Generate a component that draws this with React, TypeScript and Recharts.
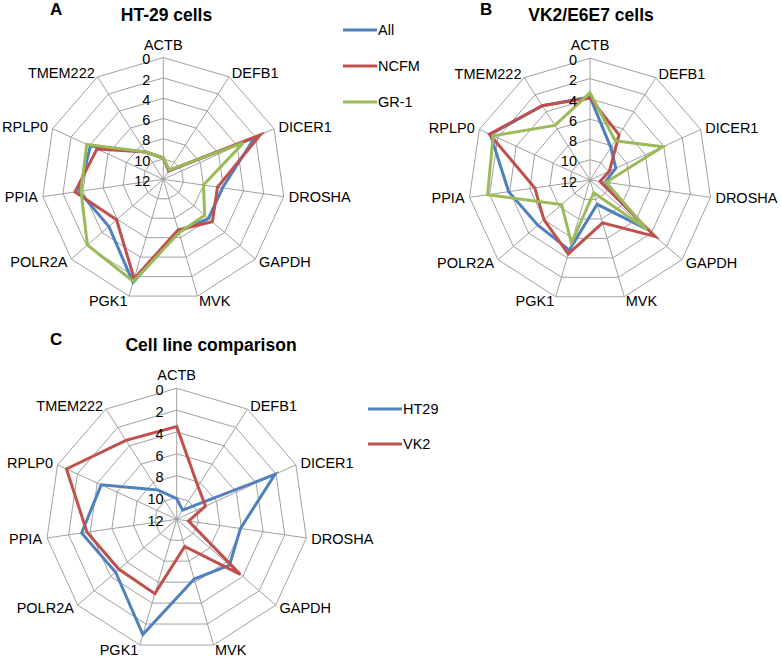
import React from 'react';
import {
  RadarChart,
  Radar,
  PolarGrid,
  PolarAngleAxis,
  PolarRadiusAxis,
  Legend,
} from 'recharts';

const genes = ['ACTB', 'DEFB1', 'DICER1', 'DROSHA', 'GAPDH', 'MVK', 'PGK1', 'POLR2A', 'PPIA', 'RPLP0', 'TMEM222'];

// panel A - HT-29 cells
const ht29All = [9.9, 11.0, 2.1, 6.1, 6.1, 6.6, 1.4, 4.9, 3.6, 4.1, 8.8];
const ht29Ncfm = [9.9, 11.0, 1.5, 6.6, 5.6, 6.8, 1.8, 5.9, 3.2, 4.8, 8.8];
const ht29Gr1 = [9.9, 10.9, 3.3, 8.0, 6.6, 6.5, 1.5, 2.1, 3.8, 3.7, 8.8];

// panel B - VK2/E6E7 cells
const vk2All = [3.8, 8.2, 9.2, 10.5, 4.6, 9.5, 4.8, 5.2, 3.9, 1.2, 3.3];
const vk2Ncfm = [3.9, 6.7, 9.9, 11.0, 3.5, 7.6, 4.4, 6.0, 6.5, 1.1, 3.3];
const vk2Gr1 = [3.4, 7.4, 4.1, 10.4, 4.6, 10.7, 5.5, 8.3, 1.8, 1.5, 5.6];

// panel C - cell line comparison
const cmpHt29 = [10.1, 11.0, 2.1, 6.1, 5.6, 6.3, 1.0, 4.6, 3.2, 4.4, 8.8];
const cmpVk2 = [3.5, 8.4, 9.1, 10.9, 4.3, 9.4, 4.9, 5.0, 3.7, 0.9, 3.4];

const BLUE = '#4F81BD';
const RED = '#C0504D';
const GREEN = '#9BBB59';
const GRID = '#A0A0A0';
const FONT = '"Liberation Sans", Arial, sans-serif';

const buildRows = (series: Record<string, number[]>) =>
  genes.map((g, i) => {
    const row: any = { gene: g };
    Object.keys(series).forEach((k) => (row[k] = series[k][i]));
    return row;
  });

const dataA = buildRows({ All: ht29All, NCFM: ht29Ncfm, 'GR-1': ht29Gr1 });
const dataB = buildRows({ All: vk2All, NCFM: vk2Ncfm, 'GR-1': vk2Gr1 });
const dataC = buildRows({ HT29: cmpHt29, VK2: cmpVk2 });

const colors: Record<string, string> = { All: BLUE, NCFM: RED, 'GR-1': GREEN, HT29: BLUE, VK2: RED };

// gene labels sit just outside the outer ring
const makeAngleTick = (cx: number, cy: number, r: number) => (props: any) => {
  const { x, y, payload } = props;
  const dx = x - cx;
  const dy = y - cy;
  const len = Math.hypot(dx, dy) || 1;
  const ux = dx / len;
  const uy = dy / len;
  const vx = cx + ux * r;
  const vy = cy + uy * r;
  if (Math.abs(ux) < 0.02) {
    return (
      <text x={vx} y={vy - 8} textAnchor="middle" fontSize={14.5} fontFamily={FONT} fill="#000">
        {payload.value}
      </text>
    );
  }
  return (
    <text
      x={vx + ux * 5}
      y={vy + uy * 4.5}
      dy="0.36em"
      textAnchor={ux > 0 ? 'start' : 'end'}
      fontSize={14.5}
      fontFamily={FONT}
      fill="#000"
    >
      {payload.value}
    </text>
  );
};

const RadiusTick = (props: any) => {
  const { x, y, payload } = props;
  return (
    <text x={x - 13} y={y + 1.5} dy="0.36em" textAnchor="end" fontSize={14.5} fontFamily={FONT} fill="#000">
      {payload.value}
    </text>
  );
};

// keep the series order (Recharts sorts legend items by name otherwise)
const makeLegend = (rowH: number, keys: string[]) => () => (
  <div style={{ fontFamily: FONT, fontSize: 14.5, color: '#000' }}>
    {keys.map((k) => (
      <div key={k} style={{ display: 'flex', alignItems: 'center', height: rowH }}>
        <svg width={34} height={4} style={{ display: 'block' }}>
          <line x1={0} y1={2} x2={34} y2={2} stroke={colors[k]} strokeWidth={3} />
        </svg>
        <span style={{ marginLeft: 1, lineHeight: '16px' }}>{k}</span>
      </div>
    ))}
  </div>
);

const Panel = ({
  left,
  top,
  width,
  height,
  cx,
  cy,
  r,
  data,
  keys,
  letter,
  letterX,
  title,
  titleX,
  titleY,
  legend,
}: any) => (
  <div style={{ position: 'absolute', left, top, width, height }}>
    <RadarChart
      width={width}
      height={height}
      data={data}
      cx={cx}
      cy={cy}
      outerRadius={r}
      margin={{ top: 0, right: 0, bottom: 0, left: 0 }}
    >
      <PolarGrid gridType="polygon" stroke={GRID} strokeWidth={1} />
      <PolarAngleAxis dataKey="gene" tickLine={false} axisLine={false} tick={makeAngleTick(cx, cy, r)} />
      <PolarRadiusAxis
        angle={90}
        type="number"
        domain={[0, 12]}
        tickCount={7}
        reversed
        axisLine={false}
        tickLine={false}
        tick={<RadiusTick />}
      />
      {keys.map((k: string) => (
        <Radar
          key={k}
          name={k}
          dataKey={k}
          stroke={colors[k]}
          strokeWidth={3}
          fill="none"
          fillOpacity={0}
          dot={false}
          isAnimationActive={false}
        />
      ))}
      {legend && (
        <Legend
          layout="vertical"
          align="right"
          verticalAlign="top"
          content={makeLegend(legend.rowH, keys)}
          wrapperStyle={{ left: legend.x, top: legend.y, width: 'auto', right: 'auto' }}
        />
      )}
    </RadarChart>
    <div
      style={{
        position: 'absolute',
        left: letterX,
        top: titleY - 5,
        fontFamily: FONT,
        fontWeight: 'bold',
        fontSize: 17,
      }}
    >
      {letter}
    </div>
    <div
      style={{
        position: 'absolute',
        left: titleX - 120,
        width: 240,
        textAlign: 'center',
        top: titleY,
        fontFamily: FONT,
        fontWeight: 'bold',
        fontSize: 17.5,
      }}
    >
      {title}
    </div>
  </div>
);

export default function App() {
  return (
    <div style={{ position: 'absolute', left: 0, top: 0, width: 782, height: 660, background: '#fff' }}>
      <Panel
        left={0}
        top={0}
        width={391}
        height={330}
        cx={163.3}
        cy={179.3}
        r={121.7}
        data={dataA}
        keys={['All', 'NCFM', 'GR-1']}
        letter="A"
        letterX={50}
        title="HT-29 cells"
        titleX={166.5}
        titleY={5}
        legend={{ x: 343, y: 12, rowH: 36 }}
      />
      <Panel
        left={391}
        top={0}
        width={391}
        height={330}
        cx={199}
        cy={180}
        r={121.7}
        data={dataB}
        keys={['All', 'NCFM', 'GR-1']}
        letter="B"
        letterX={89}
        title="VK2/E6E7 cells"
        titleX={200}
        titleY={5}
      />
      <Panel
        left={0}
        top={330}
        width={460}
        height={330}
        cx={176.7}
        cy={189.3}
        r={131}
        data={dataC}
        keys={['HT29', 'VK2']}
        letter="C"
        letterX={50}
        title="Cell line comparison"
        titleX={211}
        titleY={5}
        legend={{ x: 368, y: 61, rowH: 35 }}
      />
    </div>
  );
}
